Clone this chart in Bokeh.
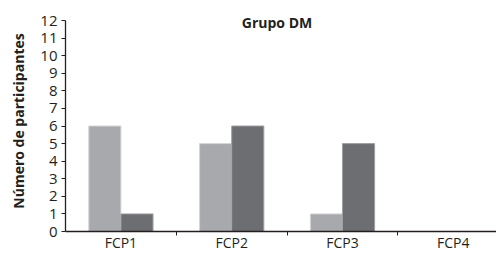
from bokeh.plotting import figure
from bokeh.models import FixedTicker, Range1d, Label
from bokeh.transform import dodge
from bokeh.models import ColumnDataSource
from bokeh.embed import file_html
from bokeh.resources import INLINE

categories = ["FCP1", "FCP2", "FCP3", "FCP4"]
serie_a = [6, 5, 1, 0]
serie_b = [1, 6, 5, 0]
y_ticks = list(range(0, 13))
title_text = "Grupo DM"
y_label = "Número de participantes"

FONT = "Open Sans"
INK = "#231f20"
xpos = [i + 0.5 for i in range(len(categories))]
src = ColumnDataSource(dict(x=xpos, a=serie_a, b=serie_b))

x_end = 3.89
y_end = 12.57
p = figure(width=496, height=254, output_backend="svg", toolbar_location=None,
           x_range=Range1d(0, x_end), y_range=Range1d(0, y_end),
           min_border_left=65, min_border_right=0, min_border_top=10, min_border_bottom=23)
p.outline_line_color = None
p.grid.grid_line_color = None
p.background_fill_color = "white"

p.vbar(x=dodge("x", -0.145, range=p.x_range), top="a", width=0.29, source=src,
       fill_color="#a7a9ac", line_color="#d4d5d7", line_width=1)
p.vbar(x=dodge("x", 0.145, range=p.x_range), top="b", width=0.29, source=src,
       fill_color="#6d6e71", line_color="#9fa0a3", line_width=1)

# x axis: labels centred, ticks at category boundaries
xa = p.xaxis[0]
xa.ticker = FixedTicker(ticks=xpos, minor_ticks=[1, 2, 3])
xa.major_label_overrides = {x: c for x, c in zip(xpos, categories)}
xa.major_tick_out = 0
xa.major_tick_in = 0
xa.minor_tick_out = 4
xa.minor_tick_in = 0
xa.minor_tick_line_color = INK
xa.axis_line_color = INK
xa.axis_line_width = 1.3
xa.major_label_standoff = -3
xa.major_label_text_font = FONT
xa.major_label_text_font_size = "14px"
xa.major_label_text_color = INK

ya = p.yaxis[0]
ya.bounds = (0, 12)
ya.ticker = FixedTicker(ticks=y_ticks, minor_ticks=[])
ya.major_tick_out = 4
ya.major_tick_in = 0
ya.major_tick_line_color = INK
ya.axis_line_color = INK
ya.axis_line_width = 1.3
ya.major_label_standoff = 4
ya.major_label_text_font = FONT
ya.major_label_text_font_size = "15px"
ya.major_label_text_color = INK
ya.axis_label = y_label
ya.axis_label_text_font = FONT
ya.axis_label_text_font_style = "bold"
ya.axis_label_text_font_size = "14px"
ya.axis_label_text_color = INK
ya.axis_label_standoff = 9

p.add_layout(Label(x=x_end / 2, y=11.89, text=title_text, text_align="center",
                   text_baseline="middle", text_font=FONT, text_font_style="bold",
                   text_font_size="14px", text_color=INK, x_offset=-4))

open("out.html", "w").write(file_html(p, INLINE))
